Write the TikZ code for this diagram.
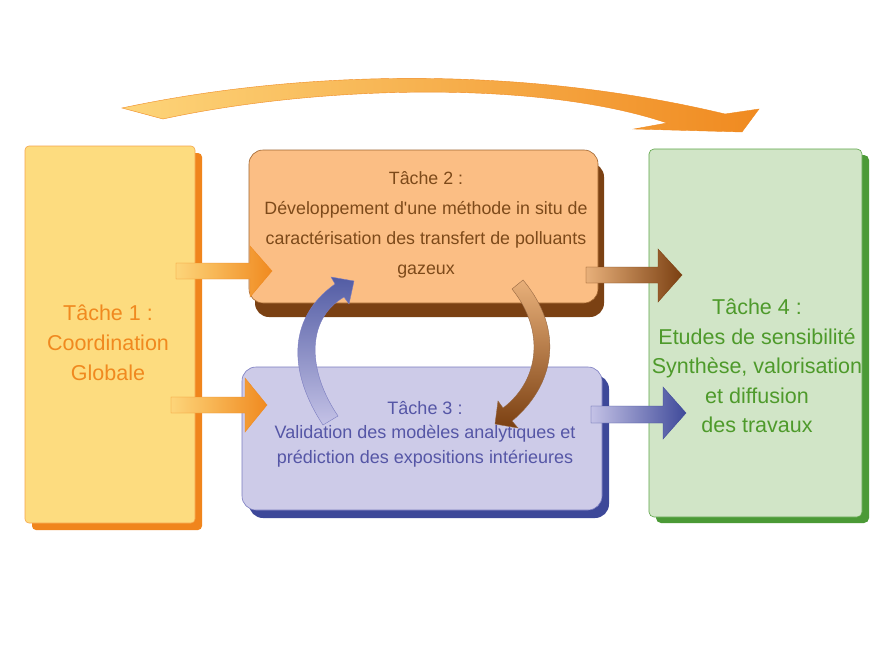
\documentclass[tikz,border=0pt]{standalone}
\usepackage{fontspec}
\setmainfont{Liberation Sans}
\usetikzlibrary{shapes.misc}
\definecolor{oFill}{HTML}{FDDC7F}
\definecolor{oShadow}{HTML}{F0851C}
\definecolor{oLine}{HTML}{F5A54A}
\definecolor{oText}{HTML}{F0891F}
\definecolor{bFill}{HTML}{FBBE84}
\definecolor{bShadow}{HTML}{7B4113}
\definecolor{bLine}{HTML}{A0642E}
\definecolor{bText}{HTML}{7D4A1A}
\definecolor{pFill}{HTML}{CDCBE8}
\definecolor{pShadow}{HTML}{3D4899}
\definecolor{pLine}{HTML}{7A7CC0}
\definecolor{pText}{HTML}{5556A6}
\definecolor{gFill}{HTML}{D1E5C7}
\definecolor{gShadow}{HTML}{4B9A36}
\definecolor{gLine}{HTML}{5DA548}
\definecolor{gText}{HTML}{4E9A2B}
\definecolor{oLight}{HTML}{FDD57A}
\definecolor{oDark}{HTML}{F08A20}
\definecolor{brLight}{HTML}{E8B07A}
\definecolor{brDark}{HTML}{7B4012}
\definecolor{puLight}{HTML}{C4C2E6}
\definecolor{puDark}{HTML}{3F4A9A}
\tikzset{
  facebox/.style={rectangle, inner sep=0pt, line width=0.6pt},
  lbl/.style={align=center, inner sep=0pt},
  blockarrow/.style={line width=0.4pt},
}
\begin{document}
\begin{tikzpicture}[x=1pt,y=-1pt]
\useasboundingbox[fill=white] (0,0) rectangle (890,666);

% ---- shadows ----
\fill[oShadow, rounded corners=4] (32,153) rectangle (202,530);
\fill[bShadow, rounded corners=14] (255,163) rectangle (604,317);
\fill[pShadow, rounded corners=14] (249,375) rectangle (609,518);
\fill[gShadow, rounded corners=5] (656,155) rectangle (869,523);

% ---- faces ----
\node[facebox, draw=oLine, fill=oFill, rounded corners=4,
  minimum width=170pt, minimum height=377pt] (t1) at (110,334.5) {};
\node[facebox, draw=bLine, fill=bFill, rounded corners=14,
  minimum width=349pt, minimum height=153pt] (t2) at (423.5,226.5) {};
\node[facebox, draw=pLine, fill=pFill, rounded corners=14,
  minimum width=360pt, minimum height=143pt] (t3) at (422,438.5) {};
\node[facebox, draw=gLine, fill=gFill, rounded corners=5,
  minimum width=213pt, minimum height=368pt] (t4) at (755.5,333) {};

% ---- labels ----
\node[lbl, text=oText, font=\fontsize{21.5}{30}\selectfont] (l1) at (108,343)
  {Tâche 1 :\\Coordination\\Globale};
\node[lbl, text=bText, font=\fontsize{17.8}{30}\selectfont] (l2) at (426,225)
  {Tâche 2 :\\Développement d\textquotesingle une méthode in situ de\\caractérisation des transfert de polluants\\gazeux};
\node[lbl, text=pText, font=\fontsize{18}{24.5}\selectfont] (l3) at (425,434)
  {Tâche 3 :\\Validation des modèles analytiques et\\prédiction des expositions intérieures};
\node[lbl, text=gText, font=\fontsize{21.5}{29.5}\selectfont] (l4) at (757,366)
  {Tâche 4 :\\Etudes de sensibilité\\Synthèse, valorisation\\et diffusion\\des travaux};

% ---- straight block arrows ----
\shade[left color=oLight, right color=oDark, draw=oDark, blockarrow]
  (176,263) -- (250,263) -- (250,246) -- (272,271) -- (250,297) -- (250,279) -- (176,279) -- cycle;
\shade[left color=oLight, right color=oDark, draw=oDark, blockarrow]
  (171,397) -- (245,397) -- (245,378) -- (267,405) -- (245,432) -- (245,413) -- (171,413) -- cycle;
\shade[left color=brLight, right color=brDark, draw=brDark, blockarrow]
  (586,267) -- (658,267) -- (658,249) -- (682,275) -- (658,302) -- (658,283) -- (586,283) -- cycle;
\shade[left color=puLight, right color=puDark, draw=puDark, blockarrow]
  (591,406) -- (663,406) -- (663,387) -- (686,413) -- (663,439) -- (663,423) -- (591,423) -- cycle;

% ---- curved arrows between tasks 2 and 3 ----
\shade[top color=puDark!90, bottom color=puLight, draw=pLine, blockarrow]
  (323,425) .. controls (290,375) and (285,320) .. (335,284)
  -- (331,277) -- (354,281) -- (349,304) -- (344,297)
  .. controls (305,320) and (308,372) .. (338,416) -- cycle;
\shade[top color=brLight, bottom color=brDark, draw=brDark!80, blockarrow]
  (523,280) .. controls (565,330) and (555,385) .. (512,421)
  -- (518,428) -- (495,424) -- (498,401) -- (503,408)
  .. controls (540,380) and (545,330) .. (512,289) -- cycle;

% ---- top arc arrow ----
\shade[left color=oLight, right color=oDark, draw=oDark, blockarrow]
  (122,108) .. controls (300,70) and (520,65) .. (725,114)
  -- (759,109) -- (742,132) -- (634,129) -- (667,123)
  .. controls (540,80) and (320,85) .. (163,119) -- cycle;
\end{tikzpicture}
\end{document}
